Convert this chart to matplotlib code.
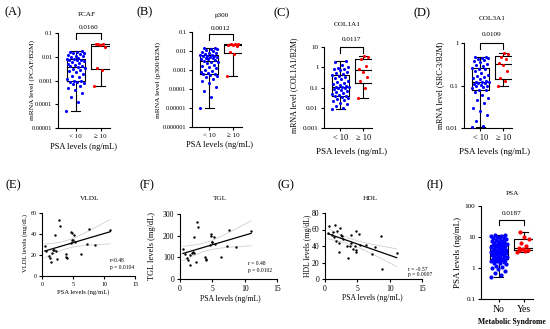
import numpy as np
import matplotlib
matplotlib.use("Agg")
import matplotlib.pyplot as plt

plt.rcParams['font.family'] = ['Liberation Serif', 'DejaVu Serif']
plt.rcParams['axes.linewidth'] = 0.8

# ---------------- data ----------------
groups_psa = ["< 10", "\u2265 10"]
groups_ms = ["No", "Yes"]

pcaf_low = [5e-5, 0.00012, 0.0002, 0.0003, 0.0004, 0.0005, 0.0006, 0.0007, 0.0008, 0.00085,
            0.0009, 0.00095, 0.001, 0.0012, 0.0014, 0.0016, 0.0019, 0.0022, 0.0025, 0.0028,
            0.0031, 0.0035, 0.0037, 0.0039, 0.0042, 0.0046, 0.005, 0.0055, 0.006, 0.0065,
            0.007, 0.0073, 0.0076, 0.0079, 0.0082, 0.0088, 0.0095, 0.0105, 0.011, 0.012,
            0.013, 0.014, 0.015, 0.0155, 0.016, 0.017]
pcaf_high = [0.0006, 0.0028, 0.0035, 0.025, 0.030, 0.033, 0.034, 0.036]

p300_low = [1e-5, 4e-5, 8e-5, 0.00012, 0.0002, 0.00028, 0.00035, 0.00042, 0.0005, 0.00055,
            0.0006, 0.00064, 0.0007, 0.0008, 0.0009, 0.001, 0.0012, 0.0014, 0.0016, 0.0019,
            0.0022, 0.0025, 0.0028, 0.003, 0.0033, 0.0036, 0.0039, 0.0042, 0.0045, 0.0048,
            0.005, 0.0053, 0.0055, 0.0057, 0.0059, 0.0062, 0.0068, 0.0075, 0.0082, 0.009,
            0.010, 0.011, 0.012, 0.013, 0.014, 0.0145]
p300_high = [0.0005, 0.007, 0.009, 0.019, 0.020, 0.021, 0.022, 0.023, 0.024]

col1a1_low = [0.009, 0.01, 0.012, 0.015, 0.018, 0.022, 0.025, 0.028, 0.031, 0.034,
              0.036, 0.038, 0.042, 0.048, 0.055, 0.062, 0.07, 0.078, 0.085, 0.092,
              0.1, 0.105, 0.108, 0.112, 0.12, 0.13, 0.15, 0.17, 0.19, 0.22,
              0.25, 0.28, 0.32, 0.36, 0.4, 0.45, 0.5, 0.6, 0.7, 0.8,
              0.85, 0.9, 1.0, 1.3, 1.8, 2.0]
col1a1_high = [0.03, 0.1, 0.2, 0.32, 0.6, 0.85, 1.2, 2.5, 3.2, 3.6]

col3a1_low = [0.0105, 0.011, 0.015, 0.02, 0.025, 0.03, 0.038, 0.045, 0.05, 0.06,
              0.072, 0.078, 0.08, 0.085, 0.09, 0.095, 0.1, 0.105, 0.11, 0.113,
              0.116, 0.119, 0.121, 0.123, 0.13, 0.14, 0.15, 0.16, 0.17, 0.18,
              0.2, 0.22, 0.24, 0.25, 0.26, 0.28, 0.3, 0.32, 0.35, 0.38,
              0.4, 0.42, 0.44, 0.45, 0.46, 0.48]
col3a1_high = [0.10, 0.13, 0.15, 0.22, 0.30, 0.33, 0.42, 0.47, 0.55, 0.58]

psa_no_ms = [0.5, 0.6, 0.7, 0.8, 0.9, 1.0, 1.1, 1.2, 1.3, 1.4, 1.5, 1.6, 1.65, 1.7, 1.75, 1.8, 1.85, 1.9,
             1.95, 2.0, 2.1, 2.2, 2.3, 2.4, 2.5, 2.6, 2.7, 2.8, 2.9, 3.0, 3.05, 3.1, 3.15, 3.2, 3.25, 3.3,
             3.35, 3.4, 3.5, 3.6, 3.7, 3.8, 3.9, 4.0, 4.2, 4.4, 4.6, 4.8, 5.0, 5.1, 5.2, 5.3, 5.4, 5.5,
             5.7, 5.9, 6.2, 6.5, 6.8, 7.0, 7.3, 7.6, 8.0, 8.4, 8.8, 9.2, 9.6, 10.0, 10.4, 10.8, 11.2, 11.6]
psa_ms = [3.4, 3.6, 3.7, 3.9, 4.2, 4.5, 5.0, 6.5, 8.5, 10.0, 14.5]

psa_lipid = [0.45, 0.7, 1.1, 1.3, 1.5, 1.6, 1.8, 2.0, 2.2, 2.1, 2.45, 2.7, 2.85, 3.85,
             3.95, 4.05, 4.6, 4.75, 4.8, 4.9, 5.0, 5.2, 5.35, 6.3, 7.3, 7.6, 8.6, 11.0]
vldl = [28.6, 23.5, 19.5, 17.5, 13, 22, 24.5, 25, 24.2, 39.5, 16, 53.5, 48, 21,
        18.5, 17.5, 31.5, 41.5, 40.5, 34.5, 34, 39, 32.8, 20.5, 30.5, 45, 30, 44]
tgl = [140, 117, 95, 88, 65, 110, 122, 125, 121, 195, 80, 265, 240, 103,
       92, 86, 157, 210, 200, 172, 170, 194, 163, 100, 152, 226, 148, 221]

psa_hdl = [0.5, 0.67, 1.13, 1.28, 1.44, 1.6, 1.7, 1.8, 2.1, 2.3, 2.2, 2.46, 2.7, 2.8, 3.33, 3.6,
           3.95, 3.85, 4.0, 4.26, 4.7, 4.77, 4.77, 4.87, 5.28, 5.38, 6.4, 7.33, 7.7, 8.72, 8.87, 11.08]
hdl = [55.7, 63.8, 52.8, 56.9, 50.8, 65.8, 45.5, 57.7, 43.5, 61.8, 32.5, 53.7, 51.6, 48.8, 39.4, 25.2,
       53.7, 39.4, 43.5, 36.6, 39.4, 35.4, 33.3, 58.5, 54.9, 41.5, 40.7, 30.5, 38.6, 51.6, 11.8, 32.1]

# ---------------- helpers ----------------
W, H = 550, 329
fig = plt.figure(figsize=(W / 100, H / 100), dpi=100)


def ax_px(l, t, r, b):
    return fig.add_axes([l / W, 1 - b / H, (r - l) / W, (b - t) / H])


def txt(x, y, s, **kw):
    kw.setdefault('ha', 'center')
    kw.setdefault('va', 'center')
    fig.text(x / W, 1 - y / H, s, **kw)


def jitter(n, w):
    return np.array([((i * 0.6180339887) % 1.0 - 0.5) * 2 * w for i in range(n)])


def box_stats(v):
    v = np.asarray(v, float)
    q1, med, q3 = np.percentile(v, [25, 50, 75], method='weibull')
    return dict(med=med, q1=q1, q3=q3, whislo=v.min(), whishi=v.max(), fliers=[])


def style_ax(ax, fs=5):
    for s in ['top', 'right']:
        ax.spines[s].set_visible(False)
    ax.tick_params(axis='both', which='major', direction='out', length=2.5, width=0.8,
                   labelsize=fs, pad=1.5)
    ax.tick_params(axis='both', which='minor', length=0)


def box_panel(ax, low, high, ylim, yticks, yticklabels, xticklabels, bracket, ptxt,
              ms=5, xfs=5.5, yfs=5, wl=0.38, wh=0.25):
    ax.set_yscale('log')
    for pos, data, col, w in [(0, low, '#0000ff', wl), (1, high, '#ff0000', wh)]:
        ax.bxp([box_stats(data)], positions=[pos], widths=0.75, showfliers=False,
               boxprops=dict(lw=0.8, color='black'), whiskerprops=dict(lw=0.8, color='black'),
               capprops=dict(lw=0.8, color='black'), medianprops=dict(lw=0.8, color='black'),
               manage_ticks=False, zorder=2)
        ax.scatter(pos + jitter(len(data), w), data, s=ms, color=col, lw=0, zorder=3)
    ax.set_xlim(-0.72, 1.38)
    ax.set_ylim(*ylim)
    ax.set_yticks(yticks)
    ax.set_yticklabels(yticklabels)
    ax.set_xticks([0, 1])
    ax.set_xticklabels(xticklabels)
    style_ax(ax, yfs)
    ax.tick_params(axis='x', labelsize=xfs)
    ytop, ydrop, ytext = bracket
    ax.plot([0, 0, 1, 1], [ydrop, ytop, ytop, ydrop], color='black', lw=0.8, clip_on=False)
    ax.text(0.5, ytext, ptxt, ha='center', va='center', fontsize=5.2, clip_on=False)


def scatter_panel(ax, x, y, ylim, yticks, fs):
    x = np.asarray(x, float)
    y = np.asarray(y, float)
    ax.scatter(x, y, s=3, color='black', lw=0, zorder=3, clip_on=False)
    b, a = np.polyfit(x, y, 1)
    n = len(x)
    xs = np.linspace(x.min(), x.max(), 100)
    yh = a + b * xs
    res = y - (a + b * x)
    se = np.sqrt(np.sum(res ** 2) / (n - 2))
    sxx = np.sum((x - x.mean()) ** 2)
    band = 2.05 * se * np.sqrt(1 / n + (xs - x.mean()) ** 2 / sxx)
    ax.plot(xs, yh, color='black', lw=0.9, zorder=2)
    ax.plot(xs, yh + band, color='#c8c8c8', lw=0.5, zorder=1)
    ax.plot(xs, yh - band, color='#c8c8c8', lw=0.5, zorder=1)
    ax.set_xlim(0, 15)
    ax.set_ylim(*ylim)
    ax.set_xticks([0, 5, 10, 15])
    ax.set_yticks(yticks)
    style_ax(ax, fs)


# ---------------- top row ----------------
axA = ax_px(58, 33, 110, 128)
box_panel(axA, pcaf_low, pcaf_high, (1e-5, 0.1), [1e-5, 1e-4, 1e-3, 1e-2, 1e-1],
          ['0.00001', '0.0001', '0.001', '0.01', '0.1'], groups_psa,
          (0.1, 0.056, 0.165), '0.0160', yfs=4.6, xfs=5)

axB = ax_px(192, 32, 242, 127)
box_panel(axB, p300_low, p300_high, (1e-6, 0.1), [1e-6, 1e-5, 1e-4, 1e-3, 1e-2, 1e-1],
          ['0.000001', '0.00001', '0.0001', '0.001', '0.01', '0.1'], groups_psa,
          (0.082, 0.04, 0.15), '0.0012', yfs=4.6, xfs=5)

axC = ax_px(324, 47, 372, 128)
box_panel(axC, col1a1_low, col1a1_high, (1e-3, 10), [1e-3, 1e-2, 1e-1, 1, 10],
          ['0.001', '0.01', '0.1', '1', '10'], groups_psa,
          (10, 5.1, 23), '0.0117', yfs=5, xfs=6)

axD = ax_px(464, 43, 512, 128)
box_panel(axD, col3a1_low, col3a1_high, (0.01, 1), [0.01, 0.1, 1],
          ['0.01', '0.1', '1'], groups_psa,
          (1, 0.72, 1.58), '0.0109', yfs=5, xfs=6)

# ---------------- bottom row ----------------
axE = ax_px(42, 213, 135, 276)
scatter_panel(axE, psa_lipid, vldl, (0, 60), [0, 20, 40, 60], 4.3)
axE.text(11.0, 15, 'r=0.48', fontsize=4, ha='left', va='center')
axE.text(11.0, 8, 'p = 0.0104', fontsize=4, ha='left', va='center')

axF = ax_px(180, 214, 277, 279)
scatter_panel(axF, psa_lipid, tgl, (0, 300), [0, 100, 200, 300], 5.5)
axF.text(10.5, 72, 'r = 0.48', fontsize=4, ha='left', va='center')
axF.text(10.5, 38, 'p = 0.0102', fontsize=4, ha='left', va='center')

axG = ax_px(325, 213, 422, 279)
scatter_panel(axG, psa_hdl, hdl, (0, 80), [0, 20, 40, 60, 80], 5.5)
axG.text(12.8, 12, 'r = -0.57', fontsize=4, ha='left', va='center', clip_on=False)
axG.text(12.8, 5, 'p = 0.0007', fontsize=4, ha='left', va='center', clip_on=False)

axH = ax_px(481, 206, 533, 299)
box_panel(axH, psa_no_ms, psa_ms, (0.1, 100), [0.1, 1, 10, 100],
          ['0.1', '1', '10', '100'], groups_ms,
          (35, 24, 58), '0.0187', ms=9, yfs=5.2, xfs=7, wl=0.33, wh=0.25)

# ---------------- texts ----------------
for lab, x, y in [('(A)', 13, 12), ('(B)', 145, 12), ('(C)', 282, 13), ('(D)', 422, 13),
                  ('(E)', 13, 185), ('(F)', 147, 185), ('(G)', 286, 185), ('(H)', 435, 185)]:
    txt(x, y, lab, fontsize=9)

for t, x, y in [('PCAF', 87, 15), ('p300', 222, 15), ('COL1A1', 347, 24), ('COL3A1', 492, 19),
                ('VLDL', 90, 199), ('TGL', 220, 199), ('HDL', 370, 199), ('PSA', 512, 193)]:
    txt(x, y, t, fontsize=5.2)

for x, y, fs in [(83, 147, 6), (220, 145, 6), (352, 152, 6.5), (495, 152, 6.5)]:
    txt(x, y, 'PSA levels (ng/mL)', fontsize=fs)
txt(83, 292, 'PSA levels (ng/mL)', fontsize=4.8)
txt(230, 299, 'PSA levels (ng/mL)', fontsize=5.5)
txt(372, 298, 'PSA levels (ng/mL)', fontsize=5.5)
txt(512, 322, 'Metabolic Syndrome', fontsize=5.5, fontweight='bold')

for s, x, y, fs in [('mRNA level (PCAF/B2M)', 32, 80, 5.3), ('mRNA level (p300/B2M)', 158, 80, 5.3),
                    ('mRNA level (COL1A1/B2M)', 294, 85, 5.8), ('mRNA level (SRC-3/B2M)', 440, 85, 5.8),
                    ('VLDL levels (mg/dL)', 25, 243, 4.8), ('TGL levels (mg/dL)', 152, 246, 6),
                    ('HDL levels (mg/dL)', 308, 246, 5.5), ('PSA levels (ng/mL)', 458, 252, 6.5)]:
    txt(x, y, s, fontsize=fs, rotation=90)

fig.savefig('out.png', dpi=100)
